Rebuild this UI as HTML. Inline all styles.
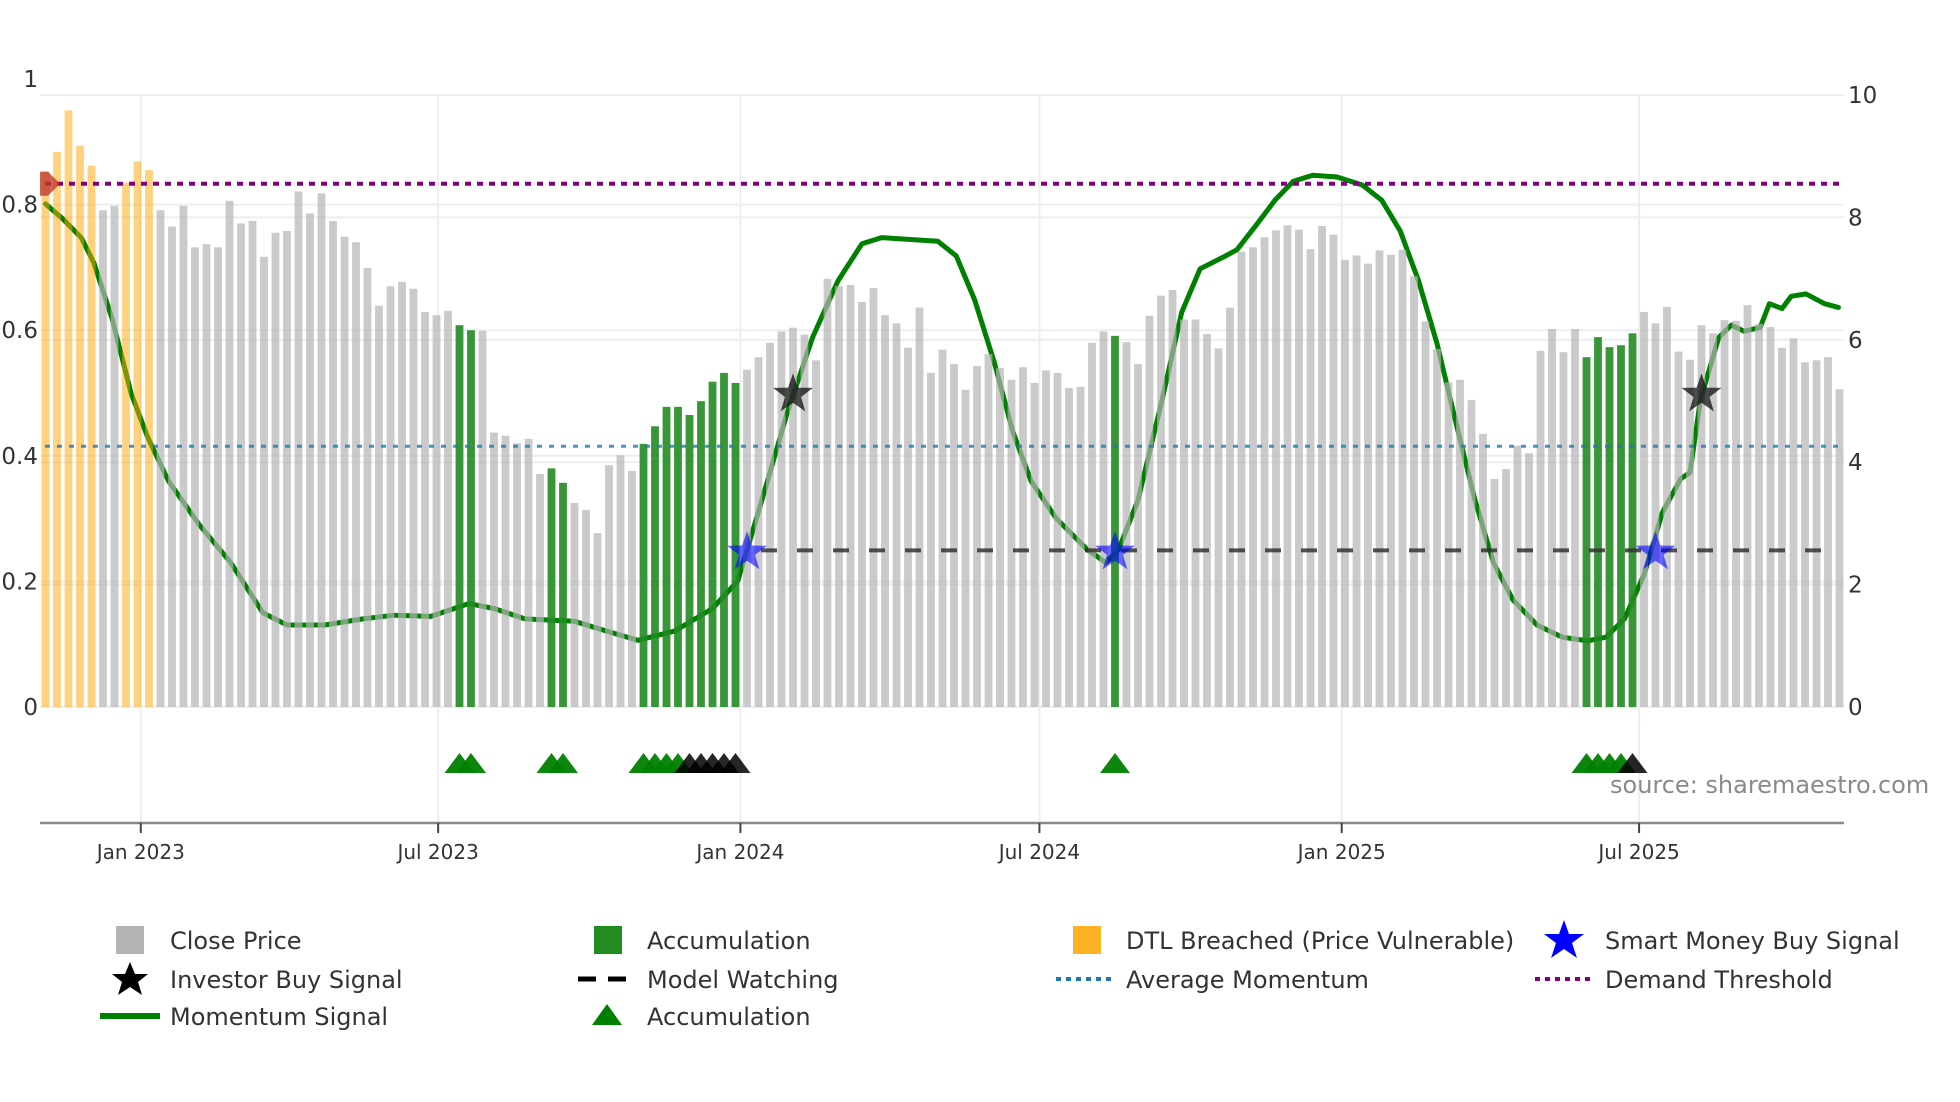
<!DOCTYPE html>
<html><head><meta charset="utf-8">
<style>
html,body{margin:0;padding:0;background:#fff;}
svg{display:block;font-family:"DejaVu Sans","Liberation Sans",sans-serif;}
</style></head>
<body>
<svg id="chart" width="1960" height="1102" viewBox="0 0 1960 1102" xmlns="http://www.w3.org/2000/svg"></svg>
<script>
// ---- data ----
const closePrice = [0.853,0.884,0.95,0.894,0.862,0.791,0.798,0.835,0.869,0.855,0.791,0.765,0.798,0.732,0.737,0.732,0.806,0.770,0.774,0.717,0.755,0.758,0.821,0.786,0.818,0.774,0.749,0.740,0.699,0.639,0.670,0.677,0.666,0.629,0.624,0.631,0.608,0.600,0.599,0.437,0.432,0.42,0.427,0.371,0.380,0.357,0.325,0.314,0.277,0.385,0.401,0.376,0.419,0.447,0.478,0.478,0.465,0.487,0.518,0.532,0.516,0.537,0.557,0.580,0.598,0.604,0.593,0.552,0.682,0.670,0.672,0.645,0.667,0.624,0.611,0.572,0.636,0.532,0.569,0.546,0.505,0.543,0.562,0.540,0.521,0.541,0.516,0.536,0.532,0.508,0.510,0.580,0.598,0.591,0.581,0.546,0.623,0.655,0.664,0.617,0.617,0.594,0.571,0.636,0.725,0.732,0.748,0.759,0.767,0.760,0.729,0.766,0.752,0.712,0.719,0.706,0.727,0.720,0.728,0.686,0.614,0.570,0.517,0.521,0.489,0.435,0.363,0.379,0.416,0.404,0.567,0.602,0.565,0.602,0.557,0.589,0.573,0.576,0.595,0.629,0.611,0.637,0.566,0.553,0.608,0.595,0.616,0.615,0.640,0.61,0.605,0.572,0.587,0.549,0.552,0.557,0.506];
const dtlBars = [0,1,2,3,4,7,8,9];
const accumBars = [36,37,44,45,52,53,54,55,56,57,58,59,60,93,134,135,136,137,138];
const momentumIdx = [0,1.48,3.1,4.2,5.8,7.45,8.9,10.7,13.4,16.1,18.9,21,24.3,27.6,30.3,33.5,36.8,39,41.7,46,48.8,51.5,54.7,58,60.2,62.3,64.5,66.7,68.9,71,72.7,77.6,79.2,80.8,82.5,84.1,85.7,87.9,90.6,92.2,93.3,95,97.1,98.8,100.4,102.6,103.6,105.3,106.9,108.5,110.2,112.3,114.5,116.2,117.8,119.4,121,122.7,124.3,125.9,127.6,129.7,131.9,134.1,135.7,137.3,139,140.6,142.2,143,143.9,145.5,146.6,147.7,149.1,149.9,151,151.8,153.1,154.7,155.9];
const momentumVal = [8.22,7.98,7.67,7.26,6.34,5.12,4.40,3.69,2.97,2.36,1.54,1.34,1.34,1.44,1.50,1.48,1.69,1.61,1.44,1.40,1.24,1.09,1.24,1.61,2.06,3.38,4.81,6.04,6.96,7.57,7.67,7.61,7.37,6.65,5.63,4.51,3.69,3.08,2.57,2.36,2.57,3.38,5.02,6.45,7.16,7.37,7.47,7.88,8.28,8.59,8.69,8.66,8.53,8.28,7.78,6.96,5.94,4.61,3.38,2.36,1.75,1.34,1.14,1.08,1.14,1.44,2.16,3.18,3.73,3.83,5.02,6.04,6.24,6.14,6.2,6.59,6.51,6.71,6.75,6.59,6.53];
const smartMoneyIdx = [61,93,140];
const investorIdx = [65,144];
const investorVal = [5.14,5.14];
const accumTriIdx = [36,37,44,45,52,53,54,55,93,134,135,136,137];
const blackTriIdx = [56,57,58,59,60,138];
const demandThreshold = 8.55;
const avgMomentum = 4.26;
const modelWatching = 2.56;
const leftTicks = [0,0.2,0.4,0.6,0.8,1];
const leftTickLabels = ["0","0.2","0.4","0.6","0.8","1"];
const rightTicks = [0,2,4,6,8,10];
const rightTickLabels = ["0","2","4","6","8","10"];
const dateTicks = ["2023-01-01","2023-07-01","2024-01-01","2024-07-01","2025-01-01","2025-07-01"];
const dateTickLabels = ["Jan 2023","Jul 2023","Jan 2024","Jul 2024","Jan 2025","Jul 2025"];
const startDate = "2022-11-04";

// ---- scales ----
const NS="http://www.w3.org/2000/svg";
const svg=document.getElementById('chart');
const X0=45.5, WEEK=11.5, PLOT_L=40, PLOT_R=1844;
const xi=i=>X0+WEEK*i;
const dayMs=86400000;
const xd=d=>X0+(new Date(d)-new Date(startDate))/dayMs*(WEEK/7);
const yL=v=>707-v*628;
const yR=v=>707-v*61.2;
function el(tag,attrs,parent){const e=document.createElementNS(NS,tag);for(const k in attrs)e.setAttribute(k,attrs[k]);(parent||svg).appendChild(e);return e;}

const grid=el('g',{});


leftTicks.slice(0,5).forEach(v=>el('line',{x1:PLOT_L,x2:PLOT_R,y1:yL(v),y2:yL(v),stroke:'#eceef2','stroke-width':2},grid));
rightTicks.forEach(v=>el('line',{x1:PLOT_L,x2:PLOT_R,y1:yR(v),y2:yR(v),stroke:'#eceef2','stroke-width':2},grid));
dateTicks.forEach(d=>el('line',{x1:xd(d),x2:xd(d),y1:95,y2:823,stroke:'#eceef2','stroke-width':2},grid));

let pts=momentumIdx.map((d,k)=>xi(d).toFixed(1)+','+yR(momentumVal[k]).toFixed(1)).join(' ');
const ml=el('polyline',{points:pts,fill:'none',stroke:'#008000','stroke-width':5,'stroke-linejoin':'round','stroke-linecap':'round'});



const bars=el('g',{});


closePrice.forEach((v,i)=>{
  let fill='#b4b4b4',op=0.7;
  if(dtlBars.includes(i)){fill='#ffa500';op=0.5;}
  if(accumBars.includes(i)){fill='#228b22';op=0.9;}
  const r=el('rect',{x:xi(i)-3.9,y:yL(v),width:7.8,height:707-yL(v),fill:fill,'fill-opacity':op},bars);
  
  
});

const dl=el('line',{x1:45,x2:1840,y1:yR(demandThreshold),y2:yR(demandThreshold),stroke:'#800080','stroke-width':4,'stroke-dasharray':'6,6'});


const al=el('line',{x1:45,x2:1840,y1:yR(avgMomentum),y2:yR(avgMomentum),stroke:'#1f77b4','stroke-width':3,'stroke-dasharray':'5,7','stroke-opacity':0.8});


const mw=el('line',{x1:xi(smartMoneyIdx[0])+14,x2:1840,y1:yR(modelWatching),y2:yR(modelWatching),stroke:'#333','stroke-width':4,'stroke-dasharray':'16,20','stroke-opacity':0.85});



const rm=el('path',{d:`M40 ${yR(demandThreshold)-12} L48 ${yR(demandThreshold)-12} L60 ${yR(demandThreshold)} L48 ${yR(demandThreshold)+12} L40 ${yR(demandThreshold)+12} Z`,fill:'#c0392b','fill-opacity':0.8});



function star(cx,cy,R){let p=[];for(let k=0;k<10;k++){const a=-Math.PI/2+k*Math.PI/5;const r=k%2?R*0.4:R;p.push((cx+r*Math.cos(a)).toFixed(1)+','+(cy+r*Math.sin(a)).toFixed(1));}return p.join(' ');}
smartMoneyIdx.forEach(i=>{
  const s=el('polygon',{points:star(xi(i),yR(modelWatching)+2,21),fill:'#0000ff','fill-opacity':0.6});
  
  
});
investorIdx.forEach((i,k)=>{
  const s=el('polygon',{points:star(xi(i),yR(investorVal[k])+2,21),fill:'#000','fill-opacity':0.7});
  
  
});

function tri(i,fill,op){return el('polygon',{points:`${xi(i)-15},773 ${xi(i)},753 ${xi(i)+15},773`,fill:fill,'fill-opacity':op});}
accumTriIdx.forEach(i=>{const t=tri(i,'#008000',0.95);});
blackTriIdx.forEach(i=>{const t=tri(i,'#000',0.85);});

const wm=el('text',{x:1610,y:793,'font-size':24,fill:'#8a8a8a'});
wm.textContent='source: sharemaestro.com';



const xa=el('line',{x1:PLOT_L,x2:PLOT_R,y1:823,y2:823,stroke:'#888','stroke-width':2.5});


dateTicks.forEach((d,k)=>{
  el('line',{x1:xd(d),x2:xd(d),y1:823,y2:833,stroke:'#444','stroke-width':2});
  const t=el('text',{x:xd(d),y:859,'font-size':20,fill:'#333','text-anchor':'middle'});
  t.textContent=dateTickLabels[k];
  
  
});
leftTicks.forEach((v,k)=>{
  const t=el('text',{x:38,y:yL(v)+8,'font-size':23,fill:'#333','text-anchor':'end'});
  t.textContent=leftTickLabels[k];
  
  
});
rightTicks.forEach((v,k)=>{
  const t=el('text',{x:1848,y:yR(v)+8,'font-size':23,fill:'#333'});
  t.textContent=rightTickLabels[k];
  
  
});
</script>

<svg width="1960" height="200" style="position:absolute;left:0;top:900px" viewBox="0 900 1960 200" xmlns="http://www.w3.org/2000/svg" font-family="DejaVu Sans, Liberation Sans, sans-serif" font-size="24" fill="#333">
  <g><rect x="116" y="926" width="28" height="28" fill="#b4b4b4"/><text x="170" y="949">Close Price</text></g>
  <g><polygon points="130,962 135,974 148,974 138,982 142,995 130,987 118,995 122,982 112,974 125,974" fill="#000"/><text x="170" y="988">Investor Buy Signal</text></g>
  <g><line x1="100" x2="160" y1="1016" y2="1016" stroke="#008000" stroke-width="6"/><text x="170" y="1025">Momentum Signal</text></g>
  <g><rect x="594" y="926" width="28" height="28" fill="#228b22"/><text x="647" y="949">Accumulation</text></g>
  <g><line x1="578" x2="636" y1="979" y2="979" stroke="#000" stroke-width="5" stroke-dasharray="18,12"/><text x="647" y="988">Model Watching</text></g>
  <g><polygon points="592,1025 607,1004 622,1025" fill="#008000"/><text x="647" y="1025">Accumulation</text></g>
  <g><rect x="1073" y="926" width="28" height="28" fill="#ffa500" fill-opacity="0.85"/><text x="1126" y="949">DTL Breached (Price Vulnerable)</text></g>
  <g><line x1="1056" x2="1114" y1="979" y2="979" stroke="#1f77b4" stroke-width="4" stroke-dasharray="5,5"/><text x="1126" y="988">Average Momentum</text></g>
  <g><polygon points="1564,920 1569,934 1584,934 1572,943 1577,958 1564,949 1551,958 1556,943 1544,934 1559,934" fill="#0000ff"/><text x="1605" y="949">Smart Money Buy Signal</text></g>
  <g><line x1="1535" x2="1593" y1="979" y2="979" stroke="#800080" stroke-width="4" stroke-dasharray="5,5"/><text x="1605" y="988">Demand Threshold</text></g>
</svg>
</body></html>
